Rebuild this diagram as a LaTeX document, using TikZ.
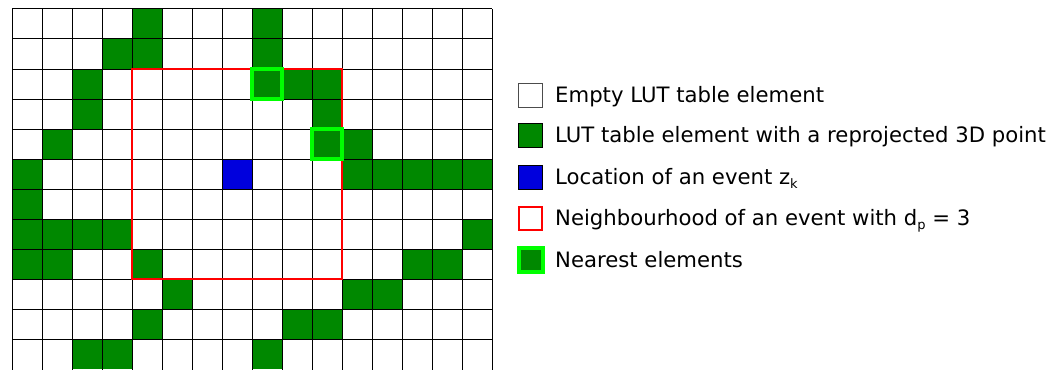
\documentclass[tikz,border=0pt]{standalone}
\usepackage{fontspec}
\setmainfont{DejaVu Sans}
\definecolor{cellgreen}{RGB}{0,136,0}
\definecolor{cellblue}{RGB}{0,0,221}
\definecolor{nearlime}{RGB}{0,255,0}
\definecolor{nbred}{RGB}{255,0,0}
\newcommand{\lowsub}[1]{{\fontsize{13}{13}\selectfont\raisebox{-4pt}{#1}}}
\begin{document}
\begin{tikzpicture}[x=1pt,y=-1pt,
  gridline/.style={black,line width=1pt},
  fullcell/.style={fill=cellgreen},
  eventcell/.style={fill=cellblue},
  nbbox/.style={draw=nbred,line width=2.2pt},
  nearbox/.style={draw=nearlime,line width=4pt},
  legbox/.style={minimum size=24pt,inner sep=0pt,line width=1pt,draw=black!70},
  legtext/.style={anchor=base west,inner sep=0pt,font=\fontsize{21.2}{25}\selectfont}]
\useasboundingbox (0,0) rectangle (1064,369);
\begin{scope}
\clip (0,0) rectangle (1064,369);
% filled cells: col,row
\foreach \c/\r in {4/0,8/0, 3/1,4/1,8/1, 2/2,8/2,9/2,10/2, 2/3,10/3, 1/4,10/4,11/4,
  0/5,11/5,12/5,13/5,14/5,15/5, 0/6, 0/7,1/7,2/7,3/7,15/7, 0/8,1/8,4/8,13/8,14/8,
  5/9,11/9,12/9, 4/10,9/10,10/10, 2/11,3/11,8/11}
  \fill[cellgreen] ({12+30*\c},{9+30*\r}) rectangle ++(30,30);
\fill[cellblue] ({12+30*7},{9+30*5}) rectangle ++(30,30);
% grid
\foreach \k in {0,...,11}
  \draw[gridline] (12,{9+30*\k}) -- (492,{9+30*\k});
\foreach \k in {0,...,16}
  \draw[gridline] ({12+30*\k},9) -- ({12+30*\k},372);
% neighbourhood
\draw[nbbox] (132,69) rectangle (342,279);
% nearest
\draw[nearbox] (252,69) rectangle (282,99);
\draw[nearbox] (312,129) rectangle (342,159);
\end{scope}
% legend
\node[legbox,fill=white] (l1) at (530.5,95) {};
\node[legbox,fill=cellgreen,draw=black] (l2) at (530.5,135.5) {};
\node[legbox,fill=cellblue,draw=black] (l3) at (530.5,177.5) {};
\node[legbox,fill=white,draw=nbred,line width=2pt,minimum size=23pt] (l4) at (530.5,218) {};
\node[legbox,fill=cellgreen,draw=nearlime,line width=4pt,minimum size=24pt] (l5) at (530.5,260) {};
\node[legtext] (t1) at (555,102) {Empty LUT table element};
\node[legtext] (t2) at (555,142.5) {LUT table element with a reprojected 3D point};
\node[legtext] (t3) at (555,184.5) {Location of an event z\lowsub{k}};
\node[legtext] (t4) at (555,225) {Neighbourhood of an event with d\lowsub{p} = 3};
\node[legtext] (t5) at (555,267) {Nearest elements};
\end{tikzpicture}
\end{document}
